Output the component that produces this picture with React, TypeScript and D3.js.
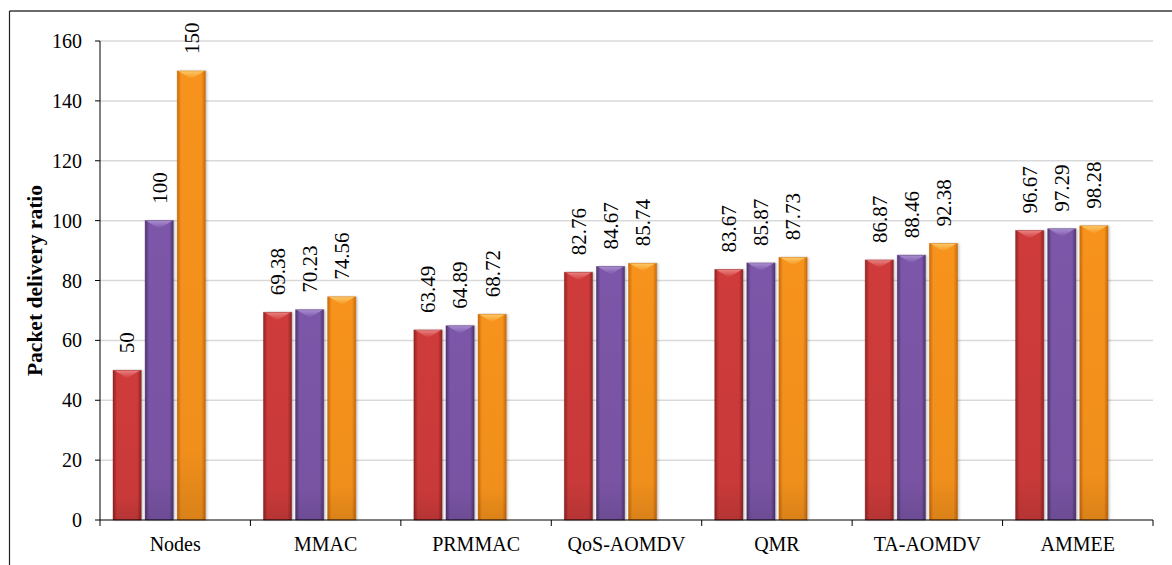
import React from "react";
import * as d3 from "d3";

const categories = ["Nodes", "MMAC", "PRMMAC", "QoS-AOMDV", "QMR", "TA-AOMDV", "AMMEE"];
const series1 = [50, 69.38, 63.49, 82.76, 83.67, 86.87, 96.67];
const series2 = [100, 70.23, 64.89, 84.67, 85.87, 88.46, 97.29];
const series3 = [150, 74.56, 68.72, 85.74, 87.73, 92.38, 98.28];
const yTicks = [0, 20, 40, 60, 80, 100, 120, 140, 160];

const seriesList = [series1, series2, series3];
const palettes = [
  { edge: "#8f2424", mid: "#cf3a3a", light: "#ee8a8a" },
  { edge: "#4f3470", mid: "#7b56a8", light: "#b094d6" },
  { edge: "#c86a0a", mid: "#f7931d", light: "#fdd070" },
];

const W = 1172;
const H = 565;
const left = 100;
const right = 1153;
const top = 41;
const bottom = 520;

export default function App() {
  const x0 = d3.scaleBand<string>().domain(categories).range([left, right]).padding(0);
  const bw0 = x0.bandwidth();
  const x1 = d3
    .scaleBand<number>()
    .domain([0, 1, 2, 3])
    .range([bw0 * 0.0865, bw0 * 0.914])
    .paddingInner(0.12)
    .paddingOuter(0);
  const y = d3.scaleLinear().domain([0, 160]).range([bottom, top]);
  const bw = x1.bandwidth();
  const font = "'Liberation Serif', 'Times New Roman', serif";

  return (
    <svg width={W} height={H} style={{ position: "absolute", left: 0, top: 0, background: "#fff" }}>
      <defs>
        {palettes.map((p, i) => (
          <linearGradient key={i} id={`g${i}`} x1="0" x2="1" y1="0" y2="0">
            <stop offset="0" stopColor={p.edge} />
            <stop offset="0.14" stopColor={p.mid} />
            <stop offset="0.5" stopColor={p.mid} />
            <stop offset="0.86" stopColor={p.mid} />
            <stop offset="1" stopColor={p.edge} />
          </linearGradient>
        ))}
        <linearGradient id="shade" x1="0" x2="0" y1="0" y2="1">
          <stop offset="0" stopColor="#000" stopOpacity="0" />
          <stop offset="0.85" stopColor="#000" stopOpacity="0.03" />
          <stop offset="1" stopColor="#000" stopOpacity="0.12" />
        </linearGradient>
        {palettes.map((p, i) => (
          <linearGradient key={`t${i}`} id={`t${i}`} x1="0" x2="0" y1="0" y2="1">
            <stop offset="0" stopColor={p.light} />
            <stop offset="1" stopColor={p.mid} />
          </linearGradient>
        ))}
        <filter id="sh" x="-20%" y="-5%" width="140%" height="110%">
          <feDropShadow dx="1.5" dy="0" stdDeviation="1.2" floodColor="#000" floodOpacity="0.25" />
        </filter>
      </defs>

      {/* frame */}
      <line x1={9.5} y1={11} x2={W} y2={11} stroke="#6b6b6b" strokeWidth={2} />
      <line x1={9.5} y1={11} x2={9.5} y2={H} stroke="#222" strokeWidth={1.2} />

      {/* gridlines */}
      {yTicks.slice(1).map((t) => (
        <line key={t} x1={left} x2={right} y1={y(t)} y2={y(t)} stroke="#d9d9d9" strokeWidth={1.5} />
      ))}

      {/* bars */}
      {categories.map((c, ci) =>
        seriesList.map((s, si) => {
          const v = s[ci];
          const bx = (x0(c) as number) + (x1(si) as number);
          const by = y(v);
          const h = bottom - by;
          const bev = Math.min(8, h);
          return (
            <g key={`${ci}-${si}`}>
              <rect x={bx} y={by} width={bw} height={h} fill={`url(#g${si})`} filter="url(#sh)" />
              <rect x={bx} y={by} width={bw} height={h} fill="url(#shade)" />
              <path
                d={`M${bx + 1},${by} L${bx + bw - 1},${by} L${bx + bw / 2},${by + bev} Z`}
                fill={`url(#t${si})`}
                opacity={0.9}
              />
              <rect x={bx} y={by} width={bw} height={h} fill="none" stroke={palettes[si].edge} strokeOpacity={0.5} strokeWidth={0.8} />
              <text
                transform={`translate(${bx + bw / 2},${by - 17}) rotate(-90)`}
                dy="0.35em"
                fontFamily={font}
                fontSize={21}
                fill="#000"
              >
                {v}
              </text>
            </g>
          );
        })
      )}

      {/* y axis */}
      <line x1={left} x2={left} y1={top} y2={bottom} stroke="#000" strokeWidth={1} />
      {yTicks.map((t) => (
        <g key={t}>
          <line x1={left - 5} x2={left} y1={y(t)} y2={y(t)} stroke="#000" />
          <text x={left - 18} y={y(t)} dy="0.35em" textAnchor="end" fontFamily={font} fontSize={20}>
            {t}
          </text>
        </g>
      ))}
      <text
        transform={`translate(${34},${(top + bottom) / 2}) rotate(-90)`}
        textAnchor="middle"
        dy="0.35em"
        fontFamily={font}
        fontSize={21.5}
        fontWeight="bold"
      >
        Packet delivery ratio
      </text>

      {/* x axis */}
      <line x1={left} x2={right} y1={bottom} y2={bottom} stroke="#000" strokeWidth={1.2} />
      {[...categories.map((c) => x0(c) as number), right].map((xv, i) => (
        <line key={i} x1={xv} x2={xv} y1={bottom} y2={bottom + 6} stroke="#000" />
      ))}
      {categories.map((c) => (
        <text
          key={c}
          x={(x0(c) as number) + bw0 / 2}
          y={551}
          textAnchor="middle"
          fontFamily={font}
          fontSize={20}
        >
          {c}
        </text>
      ))}
    </svg>
  );
}
